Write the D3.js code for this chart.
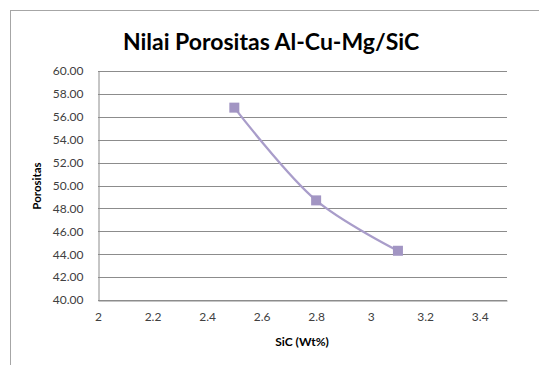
<!DOCTYPE html>
<html>
<head>
<meta charset="utf-8">
<script src="https://cdn.jsdelivr.net/npm/d3@7"></script>
<style>
  body { margin: 0; background: #fff; }
  svg { display: block; font-family: Lato, "Open Sans", sans-serif; }
</style>
</head>
<body>
<div id="container"></div>
<script>
// data
let sicValues = [2.5, 2.8, 3.1];
let porositas = [56.8, 48.7, 44.3];
let xTicks = [2, 2.2, 2.4, 2.6, 2.8, 3, 3.2, 3.4];
let yTicks = [40, 42, 44, 46, 48, 50, 52, 54, 56, 58, 60];

let w = 539;
let h = 365;
let plotLeft = 98, plotRight = 507, plotTop = 71, plotBottom = 300;

let viz = d3.select("#container")
  .append("svg")
    .attr("width", w)
    .attr("height", h);

// chart frame (runs off the right and bottom edge)
viz.append("rect")
  .attr("x", 10.5).attr("y", 10.5)
  .attr("width", 700).attr("height", 700)
  .attr("fill", "#fff")
  .attr("stroke", "#a6a6a6");

let xScale = d3.scaleLinear().domain([2, 3.5]).range([plotLeft, plotRight]);
let yScale = d3.scaleLinear().domain([40, 60]).range([plotBottom, plotTop]);

// horizontal gridlines
viz.append("g").selectAll("line")
  .data(yTicks)
  .enter().append("line")
    .attr("x1", plotLeft).attr("x2", plotRight)
    .attr("y1", d => Math.round(yScale(d)) + 0.5)
    .attr("y2", d => Math.round(yScale(d)) + 0.5)
    .attr("stroke", "#8c8c8c");

// y axis
let yAxis = d3.axisLeft(yScale).tickValues(yTicks).tickFormat(d3.format(".2f")).tickSize(0).tickPadding(15);
let yAxisGroup = viz.append("g").attr("transform", "translate(" + (plotLeft + 0.5) + ",0)").call(yAxis);
yAxisGroup.select(".domain").attr("stroke", "#8c8c8c");
yAxisGroup.selectAll("text").attr("font-size", 12).attr("fill", "#404040").attr("font-family", "Lato, sans-serif");

// x axis
let xAxis = d3.axisBottom(xScale).tickValues(xTicks).tickFormat(d3.format("")).tickSize(0).tickPadding(12);
let xAxisGroup = viz.append("g").attr("transform", "translate(0," + (plotBottom + 0.5) + ")").call(xAxis);
xAxisGroup.select(".domain").attr("stroke", "#8c8c8c");
xAxisGroup.selectAll("text").attr("font-size", 12).attr("fill", "#404040").attr("font-family", "Lato, sans-serif");

// smoothed line
let points = sicValues.map((d, i) => [xScale(d), yScale(porositas[i])]);
viz.append("path")
  .attr("d", d3.line().curve(d3.curveCatmullRom.alpha(0.5))(points))
  .attr("fill", "none")
  .attr("stroke", "#a99dca")
  .attr("stroke-width", 2.25);

// square markers
viz.append("g").selectAll("rect")
  .data(points)
  .enter().append("rect")
    .attr("x", d => d[0] - 5)
    .attr("y", d => d[1] - 5)
    .attr("width", 10).attr("height", 10)
    .attr("fill", "#a295c3");

// title
viz.append("text")
  .attr("x", 271).attr("y", 50)
  .attr("text-anchor", "middle")
  .attr("font-size", 23).attr("font-weight", "bold")
  .attr("fill", "#000")
  .text("Nilai Porositas Al-Cu-Mg/SiC");

// axis titles
viz.append("text")
  .attr("x", 302).attr("y", 346)
  .attr("text-anchor", "middle")
  .attr("font-size", 12).attr("font-weight", "bold")
  .text("SiC (Wt%)");

viz.append("text")
  .attr("transform", "translate(41,186) rotate(-90)")
  .attr("text-anchor", "middle")
  .attr("font-size", 11.5).attr("font-weight", "bold")
  .text("Porositas");
</script>
</body>
</html>
